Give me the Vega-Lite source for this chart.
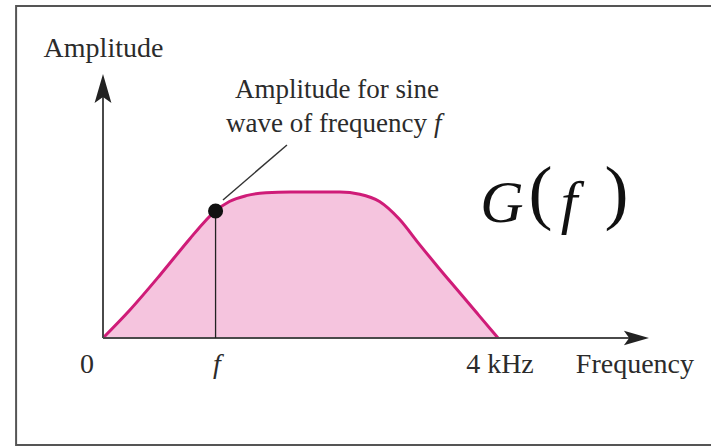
{
  "$schema": "https://vega.github.io/schema/vega-lite/v6.json",
  "width": 711,
  "height": 448,
  "padding": 0,
  "autosize": {"type": "none"},
  "background": "#ffffff",
  "config": {"view": {"stroke": null}},
  "datasets": {
    "frame": [{"x": -0.88, "x2": 6.3, "y": -0.733, "y2": 2.274}],
    "curve": [
      {"x": 0, "y": 0}, {"x": 0.27, "y": 0.19}, {"x": 0.57, "y": 0.425},
      {"x": 0.88, "y": 0.68}, {"x": 1.02, "y": 0.79}, {"x": 1.14, "y": 0.87},
      {"x": 1.28, "y": 0.935}, {"x": 1.45, "y": 0.975}, {"x": 1.65, "y": 0.995},
      {"x": 1.9, "y": 1.0}, {"x": 2.4, "y": 1.0}, {"x": 2.6, "y": 0.985},
      {"x": 2.8, "y": 0.935}, {"x": 3.0, "y": 0.815}, {"x": 3.2, "y": 0.645},
      {"x": 3.4, "y": 0.48}, {"x": 3.6, "y": 0.32}, {"x": 3.8, "y": 0.16},
      {"x": 4.0, "y": 0}
    ],
    "axes": [
      {"axis": "y", "x": 0, "y": 0, "x2": 0, "y2": 1.66},
      {"axis": "x", "x": 0, "y": 0, "x2": 5.35, "y2": 0}
    ],
    "arrowY": [{"x": 0, "y": 1.808}],
    "arrowX": [{"x": 5.529, "y": 0}],
    "fline": [{"x": 1.14, "y": 0, "y2": 0.87}],
    "leader": [{"x": 1.215, "y": 0.945, "x2": 1.863, "y2": 1.322}],
    "dot": [{"x": 1.14, "y": 0.87}],
    "labels": [
      {"label": "Amplitude", "x": 0.005, "y": 1.925},
      {"label": "0", "x": -0.162, "y": -0.24},
      {"label": "4 kHz", "x": 4.02, "y": -0.24},
      {"label": "Frequency", "x": 5.387, "y": -0.24}
    ],
    "italicLabels": [{"label": "f", "x": 1.154, "y": -0.24}],
    "note": [
      {"label": "Amplitude for sine", "x": 1.337, "y": 1.644},
      {"label": "wave of frequency", "x": 1.246, "y": 1.411}
    ],
    "noteItalic": [{"label": "f", "x": 3.352, "y": 1.411}],
    "gItalic": [
      {"label": "G", "x": 4.04, "y": 0.795},
      {"label": "f", "x": 4.719, "y": 0.795}
    ],
    "gParens": [
      {"label": "(", "x": 4.43, "y": 0.839},
      {"label": ")", "x": 5.2, "y": 0.839}
    ]
  },
  "encoding": {
    "x": {"field": "x", "type": "quantitative", "axis": null,
          "scale": {"domain": [-1.043, 6.157], "nice": false, "zero": false}},
    "y": {"field": "y", "type": "quantitative", "axis": null,
          "scale": {"domain": [-0.7534, 2.315], "nice": false, "zero": false}}
  },
  "layer": [
    {
      "data": {"name": "frame"},
      "mark": {"type": "rect", "fillOpacity": 0, "stroke": "#555555", "strokeWidth": 2, "clip": false},
      "encoding": {"x2": {"field": "x2"}, "y2": {"field": "y2"}}
    },
    {
      "data": {"name": "curve"},
      "mark": {"type": "area", "interpolate": "monotone", "color": "#f5c4de"}
    },
    {
      "data": {"name": "curve"},
      "mark": {"type": "line", "interpolate": "monotone", "color": "#cf1c78", "strokeWidth": 3}
    },
    {
      "data": {"name": "axes"},
      "mark": {"type": "rule", "color": "#4a4a4a", "strokeWidth": 2},
      "encoding": {"x2": {"field": "x2"}, "y2": {"field": "y2"}}
    },
    {
      "data": {"name": "arrowY"},
      "mark": {"type": "point", "shape": "M0,0L0.55,1.9L0,1.5L-0.55,1.9Z", "filled": true, "color": "#222222", "opacity": 1, "size": 936}
    },
    {
      "data": {"name": "arrowX"},
      "mark": {"type": "point", "shape": "M0,0L-1.9,-0.55L-1.5,0L-1.9,0.55Z", "filled": true, "color": "#222222", "opacity": 1, "size": 697}
    },
    {
      "data": {"name": "fline"},
      "mark": {"type": "rule", "color": "#222222", "strokeWidth": 1.3},
      "encoding": {"y2": {"field": "y2"}}
    },
    {
      "data": {"name": "leader"},
      "mark": {"type": "rule", "color": "#333333", "strokeWidth": 1.5},
      "encoding": {"x2": {"field": "x2"}, "y2": {"field": "y2"}}
    },
    {
      "data": {"name": "dot"},
      "mark": {"type": "circle", "color": "#111111", "opacity": 1, "size": 227}
    },
    {
      "data": {"name": "labels"},
      "mark": {"type": "text", "font": "Liberation Serif", "fontSize": 28, "align": "center", "baseline": "alphabetic", "color": "#2b2b2b"},
      "encoding": {"text": {"field": "label"}}
    },
    {
      "data": {"name": "italicLabels"},
      "mark": {"type": "text", "font": "Liberation Serif", "fontSize": 28, "fontStyle": "italic", "align": "center", "baseline": "alphabetic", "color": "#2b2b2b"},
      "encoding": {"text": {"field": "label"}}
    },
    {
      "data": {"name": "note"},
      "mark": {"type": "text", "font": "Liberation Serif", "fontSize": 27, "align": "left", "baseline": "alphabetic", "color": "#2b2b2b"},
      "encoding": {"text": {"field": "label"}}
    },
    {
      "data": {"name": "noteItalic"},
      "mark": {"type": "text", "font": "Liberation Serif", "fontSize": 27, "fontStyle": "italic", "align": "left", "baseline": "alphabetic", "color": "#2b2b2b"},
      "encoding": {"text": {"field": "label"}}
    },
    {
      "data": {"name": "gItalic"},
      "mark": {"type": "text", "font": "Liberation Serif", "fontSize": 60, "fontStyle": "italic", "align": "center", "baseline": "alphabetic", "color": "#111111"},
      "encoding": {"text": {"field": "label"}}
    },
    {
      "data": {"name": "gParens"},
      "mark": {"type": "text", "font": "Liberation Serif", "fontSize": 72, "align": "center", "baseline": "alphabetic", "color": "#111111"},
      "encoding": {"text": {"field": "label"}}
    }
  ]
}
